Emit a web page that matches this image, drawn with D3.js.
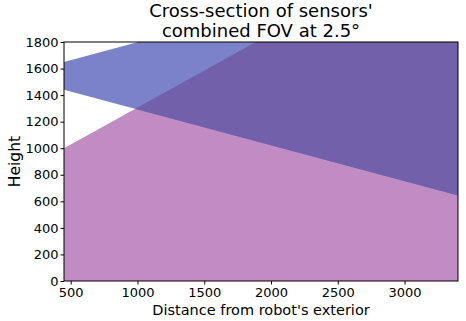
<!DOCTYPE html>
<html>
<head>
<meta charset="utf-8">
<script src="https://cdn.jsdelivr.net/npm/d3@7"></script>
<style>
	body { margin: 0; background: #fff; }
	text { font-family: "DejaVu Sans", sans-serif; fill: #000; }
</style>
</head>
<body>
<div id="chart"></div>
<script>
(function () {

	// sampled ends of the two FOV wedges (distance in mm, height in mm)
	var distance = [450, 3400];
	var upperFovTop = [1650, 2446];
	var upperFovBottom = [1440, 644];
	var lowerFovTop = [1000, 2643];
	var lowerFovBottom = [0, 0];

	var xTicks = [500, 1000, 1500, 2000, 2500, 3000];
	var yTicks = [0, 200, 400, 600, 800, 1000, 1200, 1400, 1600, 1800];

	var width = 466, height = 321;
	var margin = {top: 42, right: 8, bottom: 40, left: 64};

	var svg = d3.select('#chart')
				.append('svg')
				.attr('width', width)
				.attr('height', height);

	var x = d3.scaleLinear()
				.domain([450, 3400])
				.range([margin.left, width - margin.right]);

	var y = d3.scaleLinear()
				.domain([0, 1800])
				.range([height - margin.bottom, margin.top]);

	var defs = svg.append('defs');

	defs.append('clipPath')
		.attr('id', 'plotClip')
		.append('rect')
		.attr('x', margin.left)
		.attr('y', margin.top)
		.attr('width', x.range()[1] - x.range()[0])
		.attr('height', y.range()[0] - y.range()[1]);

	function wedge(top, bottom) {
		return distance.map(function(d, i) {
			return {x: d, y0: bottom[i], y1: top[i]};
		});
	}

	var area = d3.area()
				.x(function(d) { return x(d.x); })
				.y0(function(d) { return y(d.y0); })
				.y1(function(d) { return y(d.y1); });

	var lowerWedge = wedge(lowerFovTop, lowerFovBottom);
	var upperWedge = wedge(upperFovTop, upperFovBottom);

	defs.append('clipPath')
		.attr('id', 'lowerClip')
		.append('path')
		.attr('d', area(lowerWedge));

	var plot = svg.append('g').attr('clip-path', 'url(#plotClip)');

	plot.append('path')
		.attr('d', area(lowerWedge))
		.style('fill', '#c18cc4');

	plot.append('path')
		.attr('d', area(upperWedge))
		.style('fill', '#7b82c9');

	// overlap of both wedges
	plot.append('g')
		.attr('clip-path', 'url(#lowerClip)')
		.append('path')
		.attr('d', area(upperWedge))
		.style('fill', '#7360ab');

	// axes
	var xAxis = svg.append('g')
		.attr('transform', 'translate(0,' + (height - margin.bottom) + ')')
		.call(d3.axisBottom(x).tickValues(xTicks).tickFormat(d3.format('d'))
			.tickSize(3.5).tickPadding(3));

	var yAxis = svg.append('g')
		.attr('transform', 'translate(' + margin.left + ',0)')
		.call(d3.axisLeft(y).tickValues(yTicks).tickFormat(d3.format('d'))
			.tickSize(3.5).tickPadding(2));

	[xAxis, yAxis].forEach(function(g) {
		g.select('.domain').remove();
		g.selectAll('text')
			.style('font-family', '"DejaVu Sans", sans-serif')
			.style('font-size', '13px');
	});

	// frame
	svg.append('rect')
		.attr('x', margin.left)
		.attr('y', margin.top)
		.attr('width', x.range()[1] - x.range()[0])
		.attr('height', y.range()[0] - y.range()[1])
		.style('fill', 'none')
		.style('stroke', '#000')
		.style('stroke-width', 1);

	svg.append('text')
		.attr('x', (x.range()[0] + x.range()[1]) / 2)
		.attr('y', 315)
		.attr('text-anchor', 'middle')
		.style('font-size', '14.5px')
		.text("Distance from robot's exterior");

	svg.append('text')
		.attr('transform', 'translate(20,' + ((y.range()[0] + y.range()[1]) / 2) + ') rotate(-90)')
		.attr('text-anchor', 'middle')
		.style('font-size', '15.5px')
		.text('Height');

	var title = svg.append('text')
		.attr('text-anchor', 'middle')
		.style('font-size', '18px');

	title.append('tspan')
		.attr('x', (x.range()[0] + x.range()[1]) / 2)
		.attr('y', 17)
		.text("Cross-section of sensors'");

	title.append('tspan')
		.attr('x', (x.range()[0] + x.range()[1]) / 2)
		.attr('y', 37)
		.text('combined FOV at 2.5°');

}) ();
</script>
</body>
</html>
